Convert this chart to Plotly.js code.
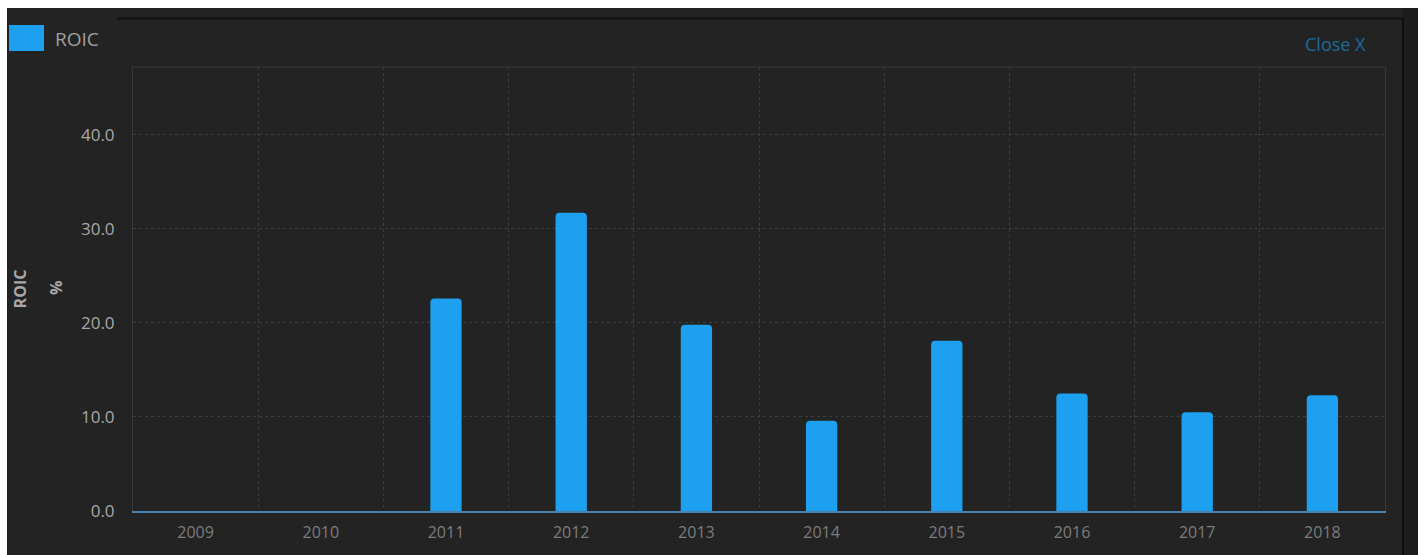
<!DOCTYPE html>
<html>
<head>
<meta charset="utf-8">
<script src="https://cdn.plot.ly/plotly-3.0.1.min.js"></script>
<style>
  html, body { margin: 0; padding: 0; background: #ffffff; width: 1425px; height: 555px; overflow: hidden; }
  #chart { position: absolute; left: 7px; top: 8px; width: 1411px; height: 547px; }
</style>
</head>
<body>
<div id="chart"></div>
<script>
// Data
const years = ['2009', '2010', '2011', '2012', '2013', '2014', '2015', '2016', '2017', '2018'];
const roic = [null, null, 22.6, 31.7, 19.8, 9.6, 18.1, 12.5, 10.5, 12.3];
const seriesName = 'ROIC';
const unitLabel = '%';
const yTicks = [0, 10, 20, 30, 40];

// Geometry (div pixels)
const W = 1411, H = 547;
const M = { l: 126, r: 33, t: 59, b: 44 };
const PW = W - M.l - M.r, PH = H - M.t - M.b;
const px = x => (x - M.l) / PW;
const py = y => (H - M.b - y) / PH;

const FONT = '"Open Sans", "DejaVu Sans", sans-serif';

const trace = {
  type: 'bar',
  x: years,
  y: roic,
  name: seriesName,
  width: 0.25,
  marker: { color: '#1ea0f0', cornerradius: 4, line: { width: 0 } },
  showlegend: false,
  hoverinfo: 'x+y'
};

const layout = {
  width: W, height: H,
  margin: M,
  paper_bgcolor: '#232323',
  plot_bgcolor: '#232323',
  font: { family: FONT, color: '#9a9a9a' },
  showlegend: false,
  xaxis: {
    type: 'category',
    tickson: 'boundaries',
    showgrid: true,
    gridcolor: '#3d3d3d',
    griddash: 'dot',
    gridwidth: 1,
    showline: true,
    linecolor: '#4a82ad',
    linewidth: 2,
    ticks: '',
    ticklabelstandoff: 6,
    tickfont: { family: FONT, size: 16, color: '#7c7c7c' },
    zeroline: false,
    fixedrange: true
  },
  yaxis: {
    range: [0, 47.2],
    tickvals: yTicks,
    tickformat: '.1f',
    showgrid: true,
    gridcolor: '#3d3d3d',
    griddash: 'dot',
    gridwidth: 1,
    showline: true,
    mirror: true,
    linecolor: '#3a3a3a',
    linewidth: 1,
    zeroline: false,
    ticks: '',
    ticklabelstandoff: 14,
    tickfont: { family: FONT, size: 17, color: '#a8a8a8' },
    title: {
      text: '<b>' + seriesName + '</b>',
      font: { family: FONT, size: 16, color: '#a8a8a8' },
      standoff: 50
    },
    automargin: false,
    fixedrange: true
  },
  shapes: [
    // top border of plot area
    { type: 'line', xref: 'paper', yref: 'paper', x0: 0, x1: 1, y0: 1, y1: 1,
      line: { color: '#3a3a3a', width: 1 } },
    // dark inner frame line at top
    { type: 'line', xref: 'paper', yref: 'paper', x0: px(110), x1: px(1396), y0: py(10.5), y1: py(10.5),
      line: { color: '#111111', width: 2 } },
    // right dark strip
    { type: 'rect', xref: 'paper', yref: 'paper', x0: px(1396), x1: px(1411), y0: py(H), y1: py(0),
      fillcolor: '#1c1c1c', line: { width: 0 } },
    { type: 'line', xref: 'paper', yref: 'paper', x0: px(1396), x1: px(1396), y0: py(H), y1: py(10),
      line: { color: '#0e0e0e', width: 2 } },
    // legend swatch
    { type: 'rect', xref: 'paper', yref: 'paper', x0: px(3), x1: px(36), y0: py(42), y1: py(18),
      fillcolor: '#1ea0f0', line: { color: '#1ea0f0', width: 2 } }
  ],
  annotations: [
    { xref: 'paper', yref: 'paper', x: px(49), y: py(280), xanchor: 'center', yanchor: 'middle',
      text: '<b>' + unitLabel + '</b>', textangle: -90, showarrow: false,
      font: { family: FONT, size: 16, color: '#a8a8a8' } },
    { xref: 'paper', yref: 'paper', x: px(46), y: py(31), xanchor: 'left', yanchor: 'middle',
      text: seriesName, showarrow: false, font: { family: FONT, size: 19, color: '#a0a0a0' } },
    { xref: 'paper', yref: 'paper', x: px(1361), y: py(36), xanchor: 'right', yanchor: 'middle',
      text: 'Close X', showarrow: false, font: { family: FONT, size: 18, color: '#1b6a9c' } }
  ]
};

Plotly.newPlot('chart', [trace], layout, { displayModeBar: false });
</script>
</body>
</html>
